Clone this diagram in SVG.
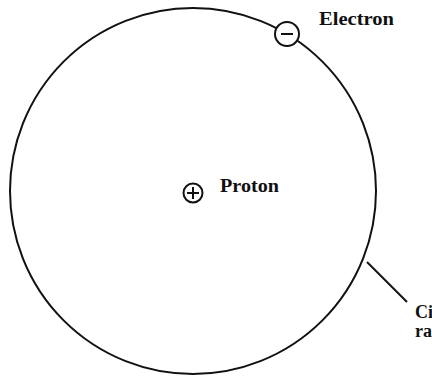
<svg xmlns="http://www.w3.org/2000/svg" width="432" height="378" viewBox="0 0 432 378">
<style>
.ln{fill:none;stroke:#111;stroke-width:2}
.lbl{font-family:"Liberation Serif","DejaVu Serif",serif;font-weight:bold;font-size:18px;fill:#111}
</style>
<rect width="432" height="378" fill="#fff"/>
<g id="orbit"><circle class="ln" cx="193" cy="191" r="183"/></g>
<g id="electron">
<circle cx="287" cy="34" r="12" fill="#fff" stroke="#111" stroke-width="2"/>
<line class="ln" x1="281" y1="34" x2="293" y2="34" stroke-width="2.5"/>
<text class="lbl" x="319" y="25" textLength="75" lengthAdjust="spacingAndGlyphs">Electron</text>
</g>
<g id="proton">
<circle class="ln" cx="193" cy="193" r="9.5"/>
<line class="ln" x1="187" y1="193" x2="199" y2="193" stroke-width="2.2"/>
<line class="ln" x1="193" y1="187" x2="193" y2="199" stroke-width="2.2"/>
<text class="lbl" x="220" y="192" textLength="59" lengthAdjust="spacingAndGlyphs">Proton</text>
</g>
<g id="connectors"><line class="ln" stroke-width="1.5" x1="367" y1="262" x2="407" y2="302"/></g>
<g id="radius-label">
<text class="lbl" x="415" y="318">Ci</text>
<text class="lbl" x="415" y="337">ra</text>
</g>
</svg>
